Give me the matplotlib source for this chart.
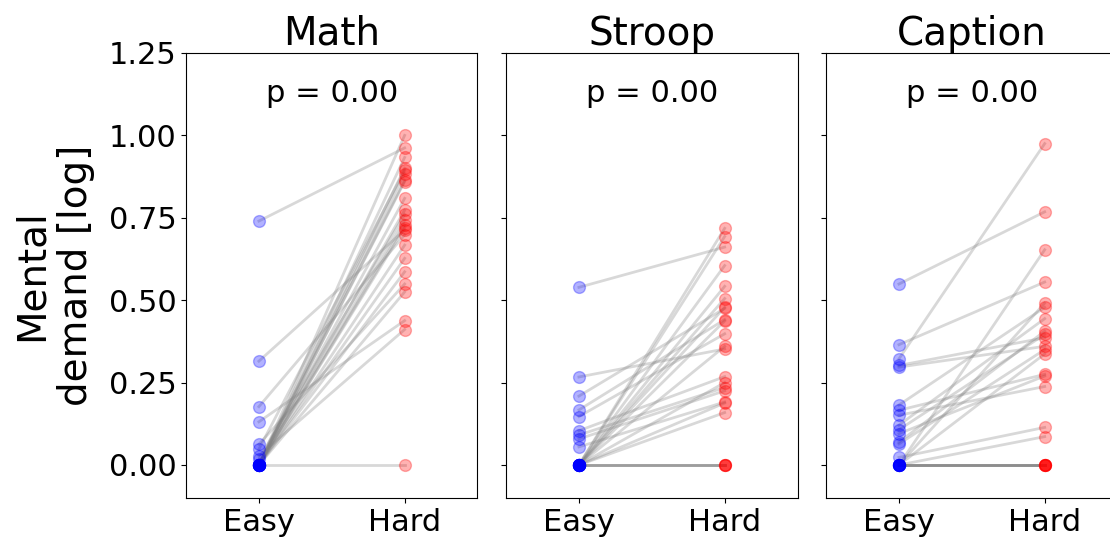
import matplotlib
matplotlib.use("Agg")
import matplotlib.pyplot as plt

conditions = ["Easy", "Hard"]
tasks = ["Math", "Stroop", "Caption"]
p_values = [0.00, 0.00, 0.00]

# per-subject scores (same subject order in easy / hard)
math_easy = [0.74, 0.315, 0.177, 0.131, 0.063, 0.048, 0.028, 0.018,
             0, 0, 0, 0, 0, 0, 0, 0, 0, 0, 0, 0, 0, 0, 0, 0]
math_hard = [0.962, 0.713, 0.698, 0.438, 0.549, 0.894, 0.411, 0.76,
             1.0, 0.933, 0.884, 0.864, 0.86, 0.773, 0.743, 0.728,
             0.667, 0.627, 0.586, 0.525, 0.809, 0.0, 0.72, 0.90]

stroop_easy = [0.539, 0.267, 0.209, 0.167, 0.147, 0.104, 0.091, 0.079, 0.055,
               0, 0, 0, 0, 0, 0, 0, 0, 0, 0, 0, 0, 0, 0, 0]
stroop_hard = [0.661, 0.352, 0.475, 0.441, 0.398, 0.268, 0.235, 0.225, 0.191,
               0.718, 0.693, 0.605, 0.542, 0.505, 0.478, 0.437, 0.36, 0.25,
               0.188, 0.159, 0, 0, 0, 0]

caption_easy = [0.549, 0.365, 0.322, 0.302, 0.297, 0.182, 0.166, 0.151, 0.121,
                0.107, 0.095, 0.069, 0.064, 0.023,
                0, 0, 0, 0, 0, 0, 0, 0, 0, 0]
caption_hard = [0.768, 0.555, 0.975, 0.386, 0.36, 0.478, 0.275, 0.238, 0.444,
                0.396, 0.27, 0.406, 0.35, 0.114,
                0.653, 0.491, 0.337, 0.086, 0, 0, 0, 0, 0, 0]

easy_scores = [math_easy, stroop_easy, caption_easy]
hard_scores = [math_hard, stroop_hard, caption_hard]

fig, axes = plt.subplots(1, 3, figsize=(11.1, 5.46), dpi=100, sharey=True)
fig.subplots_adjust(left=0.1676, right=1.0068, top=0.903, bottom=0.088,
                    wspace=0.098)

for ax, task, easy, hard, p in zip(axes, tasks, easy_scores, hard_scores,
                                   p_values):
    for e, h in zip(easy, hard):
        ax.plot([0, 1], [e, h], color="gray", alpha=0.3, lw=2)
    ax.plot([0] * len(easy), easy, "o", color="blue", alpha=0.3, ms=8.5)
    ax.plot([1] * len(hard), hard, "o", color="red", alpha=0.3, ms=8.5)
    ax.text(0.5, 0.91, "p = %.2f" % p, transform=ax.transAxes,
            ha="center", va="center", fontsize=22)
    ax.set_title(task, fontsize=28)
    ax.set_xlim(-0.5, 1.5)
    ax.set_xticks([0, 1])
    ax.set_xticklabels(conditions)
    ax.tick_params(labelsize=22)

axes[0].set_ylim(-0.1, 1.25)
axes[0].set_yticks([0, 0.25, 0.5, 0.75, 1.0, 1.25])
axes[0].set_ylabel("Mental\ndemand [log]", fontsize=28, labelpad=10)

fig.savefig("out.png")
